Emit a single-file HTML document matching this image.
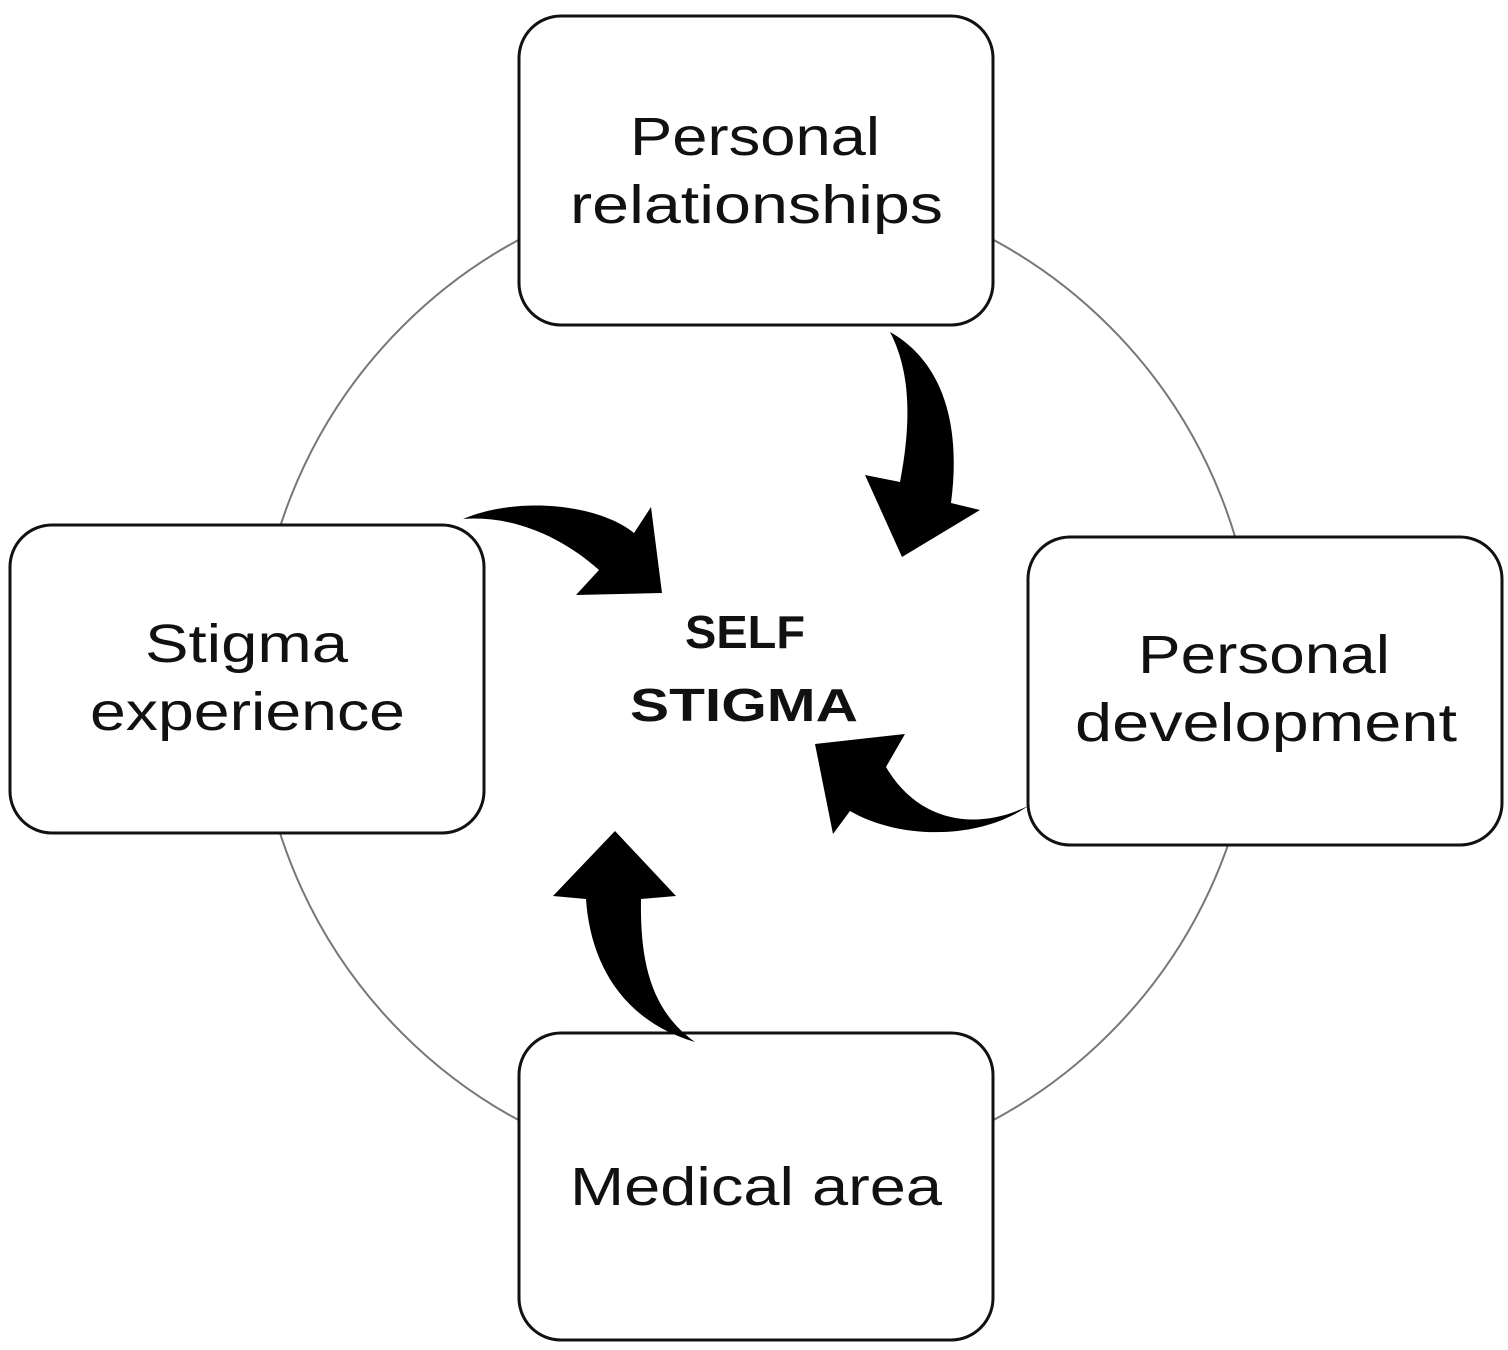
<!DOCTYPE html>
<html><head><meta charset="utf-8"><style>
html,body{margin:0;padding:0;background:#fff}
svg{display:block}
.t{font-family:"Liberation Sans",sans-serif;font-size:54px;fill:#111}
.b{font-family:"Liberation Sans",sans-serif;font-size:46px;font-weight:bold;fill:#111}
</style></head><body>
<svg width="1508" height="1350" viewBox="0 0 1508 1350" xmlns="http://www.w3.org/2000/svg">
<rect width="1508" height="1350" fill="#fff"/>
<circle cx="756" cy="680" r="500" fill="none" stroke="#777" stroke-width="2"/>
<g fill="#fff" stroke="#111" stroke-width="3">
<rect x="519" y="16" width="474" height="309" rx="42"/>
<rect x="10" y="525" width="474" height="308" rx="42"/>
<rect x="1028" y="537" width="474" height="308" rx="42"/>
<rect x="519" y="1033" width="474" height="307" rx="42"/>
</g>
<text class="t" x="630" y="155" textLength="250" lengthAdjust="spacingAndGlyphs">Personal</text>
<text class="t" x="570" y="223" textLength="373" lengthAdjust="spacingAndGlyphs">relationships</text>
<text class="t" x="145" y="662" textLength="203" lengthAdjust="spacingAndGlyphs">Stigma</text>
<text class="t" x="90" y="730" textLength="315" lengthAdjust="spacingAndGlyphs">experience</text>
<text class="t" x="1138" y="673" textLength="252" lengthAdjust="spacingAndGlyphs">Personal</text>
<text class="t" x="1075" y="741" textLength="382" lengthAdjust="spacingAndGlyphs">development</text>
<text class="t" x="570" y="1205" textLength="372" lengthAdjust="spacingAndGlyphs">Medical area</text>
<text class="b" x="685" y="648" textLength="120" lengthAdjust="spacingAndGlyphs">SELF</text>
<text class="b" x="630" y="721" textLength="228" lengthAdjust="spacingAndGlyphs">STIGMA</text>
<g fill="#000">
<path d="M890,332 C940,360 962,420 951,503 L980,510 L902,557 L865,475 L900,482 C912,420 910,370 890,332 Z"/>
<path d="M463,519 C520,495 600,505 634,533 L651,507 L662,593 L576,595 L599,570 C560,535 510,515 463,519 Z"/>
<path d="M1028,806 C980,830 920,825 886,767 L905,734 L815,744 L833,834 L850,811 C900,840 980,840 1028,806 Z"/>
<path d="M695,1042 C650,1010 640,960 641,899 L676,896 L615,831 L553,896 L586,899 C590,960 620,1020 695,1042 Z"/>
</g>
</svg>
</body></html>
